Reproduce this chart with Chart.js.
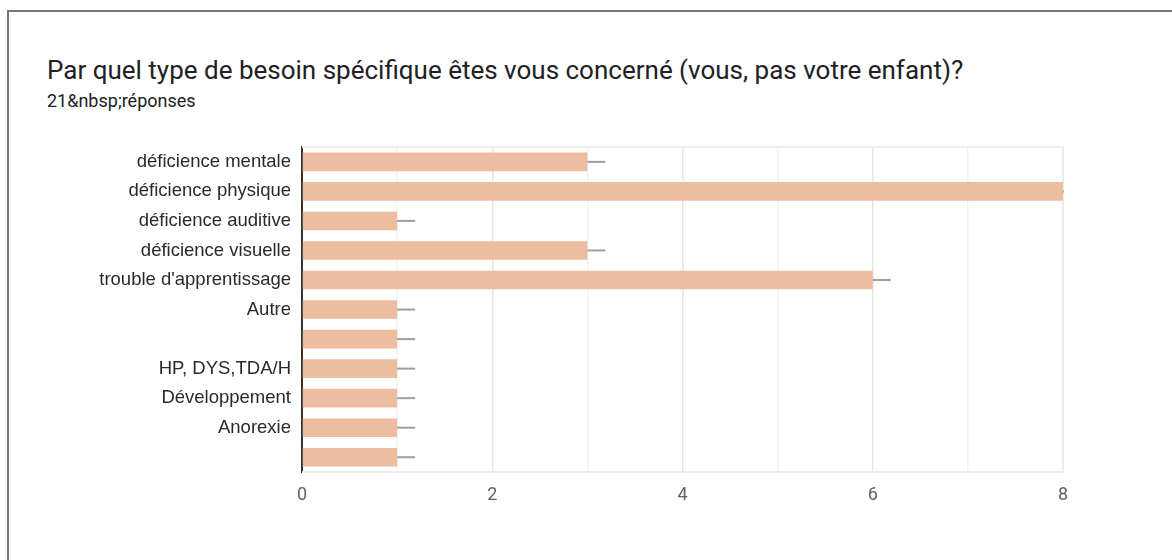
<!DOCTYPE html>
<html>
<head>
<meta charset="utf-8">
<script src="https://cdn.jsdelivr.net/npm/chart.js@4"></script>
<style>
  body { margin: 0; background: #fff; width: 1172px; height: 560px; overflow: hidden; }
  .frame { position: absolute; left: 7px; top: 10px; width: 1200px; height: 600px;
           border-left: 2px solid #777; border-top: 2px solid #777; }
  #title { position: absolute; left: 47px; top: 55px; font: 26px Roboto, sans-serif; color: #202124; white-space: nowrap; }
  #sub { position: absolute; left: 47px; top: 90px; font: 18px Roboto, sans-serif; color: #202124; white-space: nowrap; }
  .wrap { position: absolute; left: 40px; top: 133px; width: 1060px; height: 377px; }
</style>
</head>
<body>
<div class="frame"></div>
<div id="title">Par quel type de besoin spécifique êtes vous concerné (vous, pas votre enfant)?</div>
<div id="sub">21&amp;nbsp;réponses</div>
<div class="wrap"><canvas id="needsChart" width="1060" height="377"></canvas></div>
<script>
const categories = ['déficience mentale', 'déficience physique', 'déficience auditive', 'déficience visuelle',
  "trouble d'apprentissage", 'Autre', '', 'HP, DYS,TDA/H', 'Développement', 'Anorexie', ''];
const counts = [3, 8, 1, 3, 6, 1, 1, 1, 1, 1, 1];
const xTicks = [0, 2, 4, 6, 8];

// light box around the plot + little grey stubs after each bar
const extras = {
  id: 'extras',
  beforeDatasetsDraw(chart) {
    const a = chart.chartArea, ctx = chart.ctx;
    ctx.save();
    ctx.strokeStyle = '#ececec';
    ctx.lineWidth = 2;
    ctx.beginPath();
    ctx.moveTo(a.left, a.top); ctx.lineTo(a.right, a.top); ctx.lineTo(a.right, a.bottom);
    ctx.lineTo(a.left, a.bottom);
    ctx.stroke();
    ctx.restore();
  },
  afterDatasetsDraw(chart) {
    const a = chart.chartArea, ctx = chart.ctx;
    ctx.save();
    ctx.beginPath();
    ctx.rect(a.left, a.top, a.right - a.left + 1, a.bottom - a.top);
    ctx.clip();
    ctx.strokeStyle = '#9e9e9e';
    ctx.lineWidth = 2;
    chart.getDatasetMeta(0).data.forEach(bar => {
      ctx.beginPath();
      ctx.moveTo(bar.x, bar.y);
      ctx.lineTo(bar.x + 18, bar.y);
      ctx.stroke();
    });
    ctx.restore();
  }
};

const needsCtx = document.getElementById('needsChart').getContext('2d');
new Chart(needsCtx, {
  type: 'bar',
  data: {
    labels: categories,
    datasets: [{
      label: 'réponses',
      data: counts,
      backgroundColor: '#ecbd9f',
      categoryPercentage: 1,
      barPercentage: 0.63
    }]
  },
  plugins: [extras],
  options: {
    indexAxis: 'y',
    responsive: false,
    animation: false,
    layout: { padding: { top: 0, right: 37, left: 0, bottom: 0 } },
    plugins: {
      legend: { display: false },
      tooltip: { enabled: false }
    },
    scales: {
      x: {
        min: 0,
        max: 8,
        afterFit(scale) { scale.height = 38; },
        border: { display: false },
        grid: {
          drawTicks: false,
          lineWidth: 1.5,
          color: ctx => (ctx.tick && ctx.tick.value % 2 === 0) ? '#e6e6e6' : '#f3f3f3'
        },
        ticks: {
          stepSize: 1,
          padding: 13,
          maxRotation: 0,
          autoSkip: false,
          color: '#5f6368',
          font: { family: 'Roboto', size: 18 },
          callback: v => xTicks.includes(v) ? v : ''
        }
      },
      y: {
        afterFit(scale) { scale.width = 262; },
        border: { display: true, color: '#333', width: 2 },
        grid: { display: false },
        ticks: {
          padding: 3,
          autoSkip: false,
          color: '#2a2a2a',
          font: { family: 'Liberation Sans', size: 18.5 }
        }
      }
    }
  }
});
</script>
</body>
</html>
